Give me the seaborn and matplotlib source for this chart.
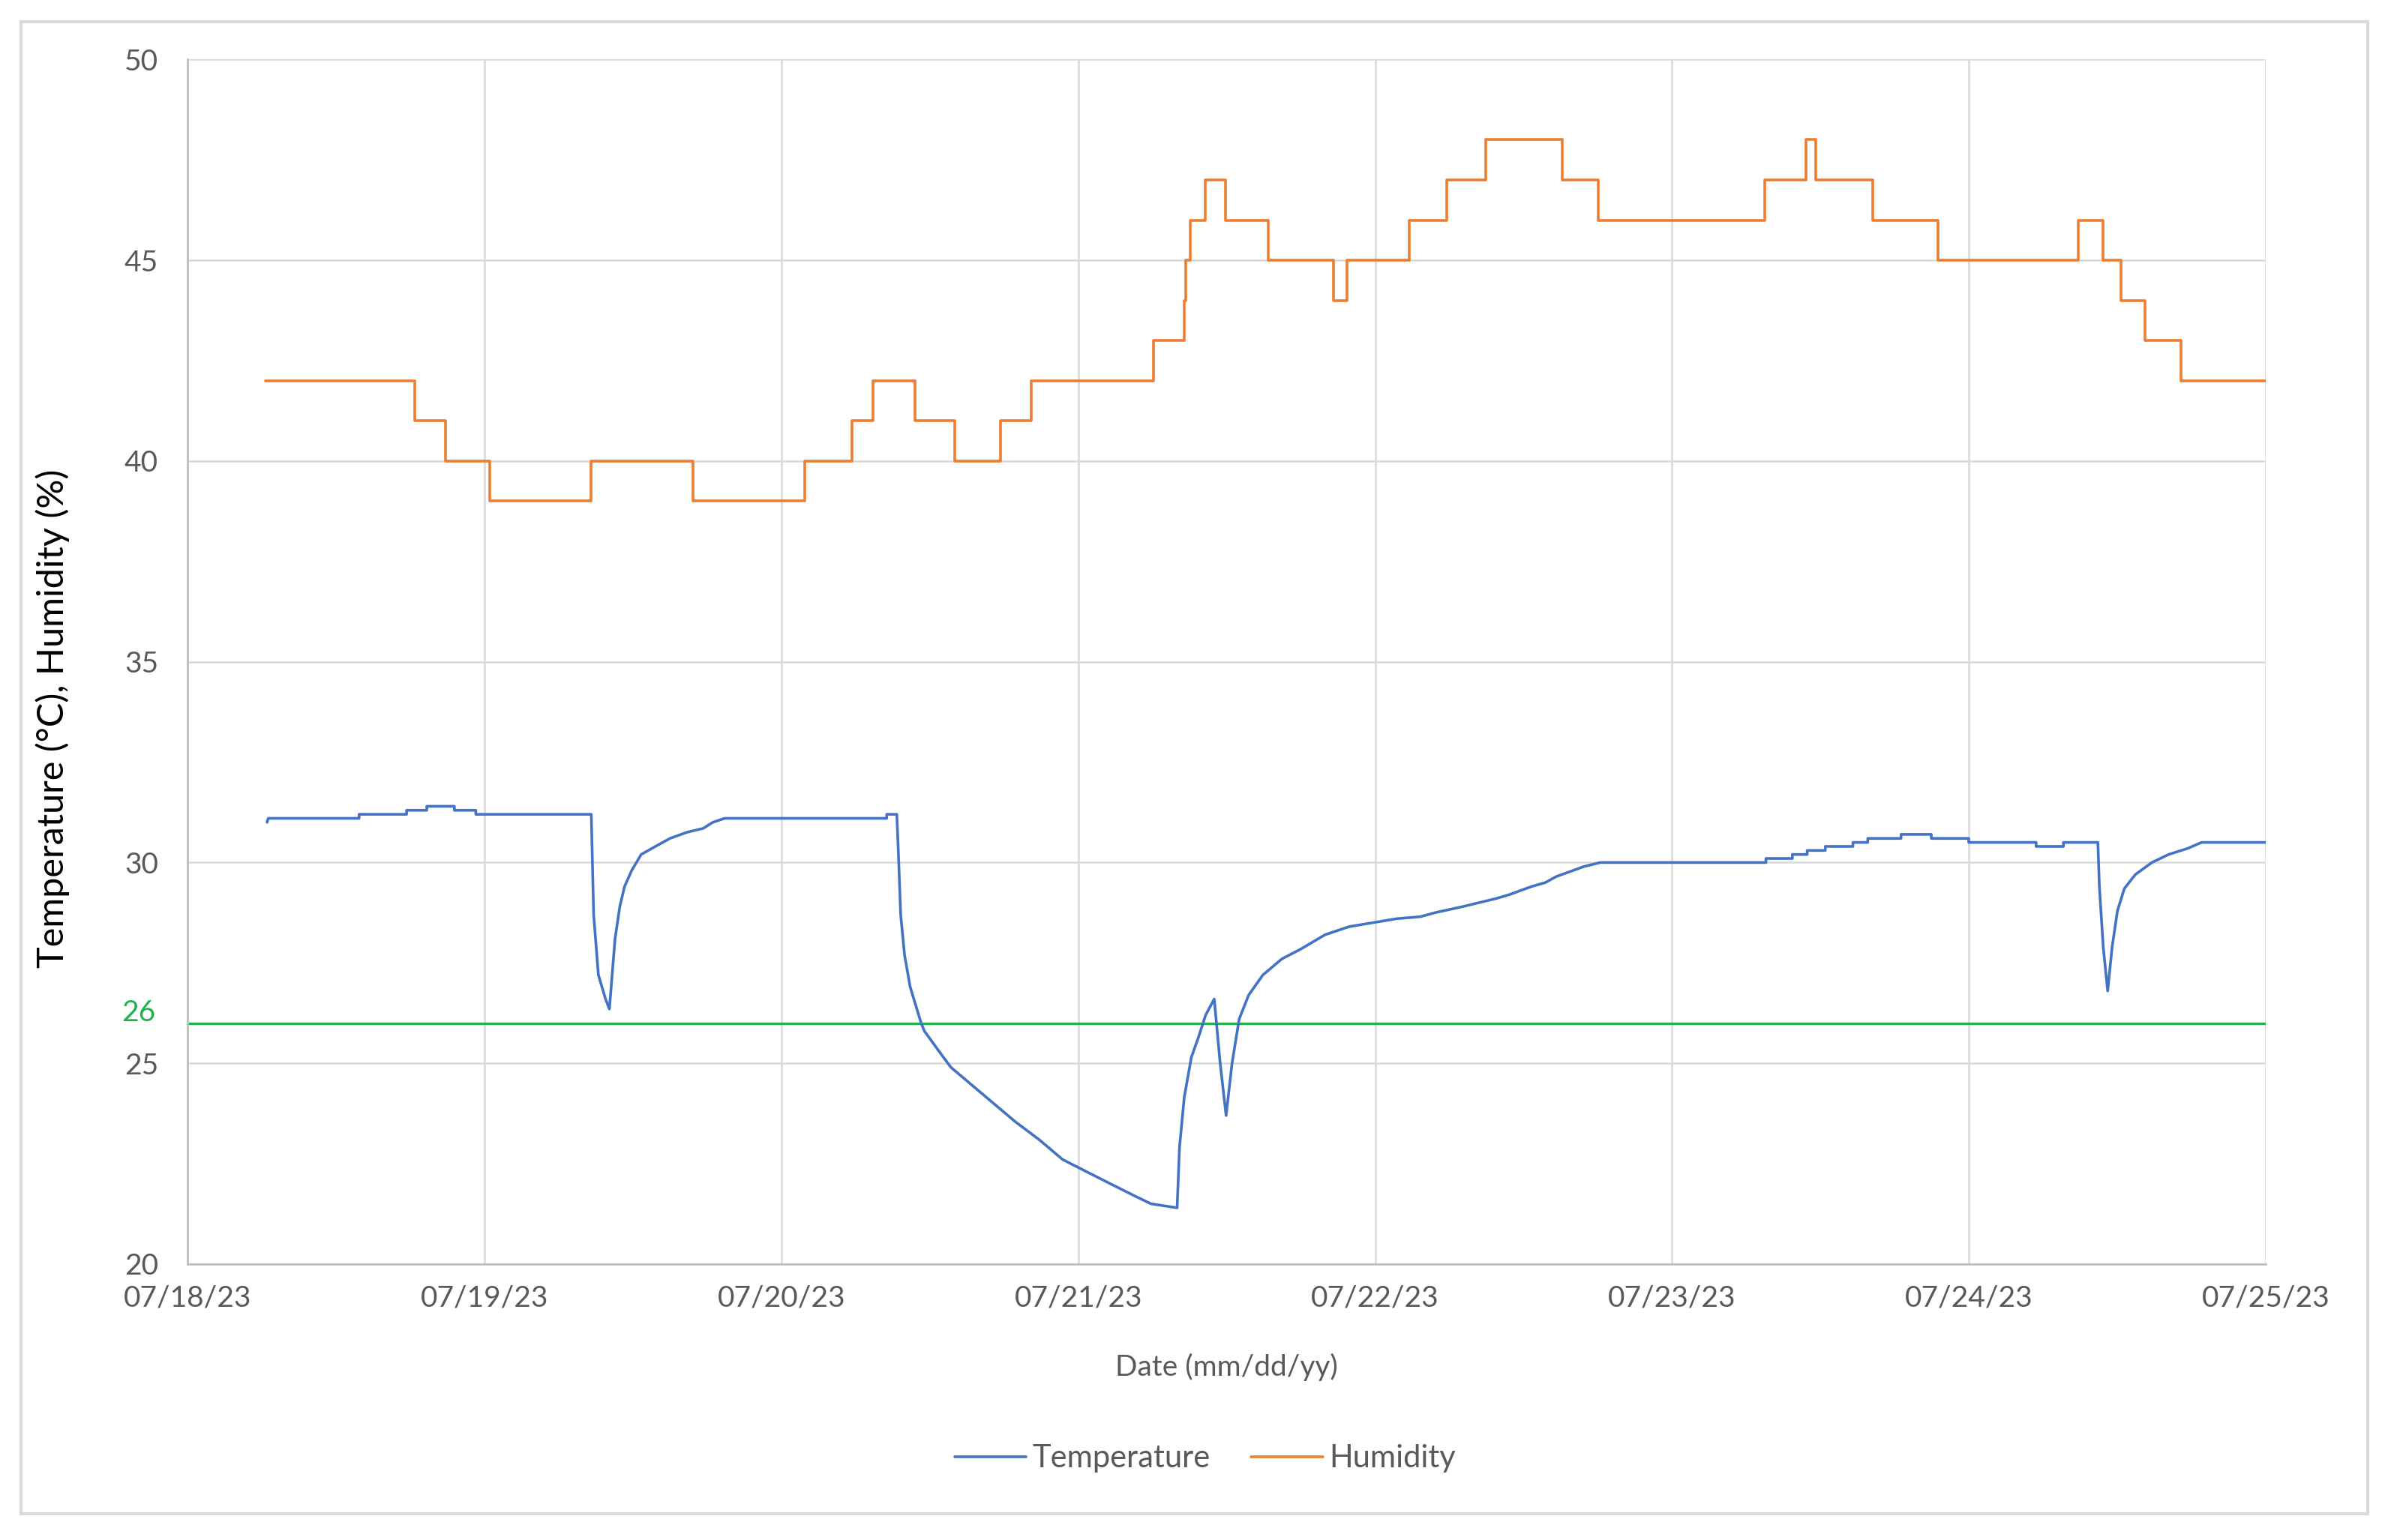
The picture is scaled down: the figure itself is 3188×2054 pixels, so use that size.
import pandas as pd
import matplotlib
matplotlib.use("Agg")
import matplotlib.pyplot as plt
import matplotlib.dates as mdates
from matplotlib.patches import Rectangle
import seaborn as sns

# Start of the logging period
start = pd.Timestamp("2023-07-18")

# Temperature readings: days since 07/18/23 and value (°C)
temp_days = [0.268, 0.272, 0.578, 0.578, 0.738, 0.738, 0.806, 0.806, 0.899, 0.899,
             0.971, 0.971, 1.360, 1.368, 1.384, 1.408, 1.421, 1.440, 1.456, 1.472,
             1.496, 1.528, 1.576, 1.625, 1.681, 1.737, 1.769, 1.809, 2.355, 2.355,
             2.389, 2.394, 2.402, 2.415, 2.434, 2.471, 2.482, 2.531, 2.571, 2.627,
             2.707, 2.787, 2.868, 2.948, 3.028, 3.108, 3.189, 3.245, 3.333, 3.341,
             3.357, 3.381, 3.405, 3.429, 3.458, 3.478, 3.498, 3.518, 3.542, 3.574,
             3.622, 3.686, 3.751, 3.831, 3.911, 3.991, 4.072, 4.152, 4.201, 4.294,
             4.350, 4.406, 4.452, 4.489, 4.526, 4.573, 4.610, 4.666, 4.703, 4.759,
             5.316, 5.316, 5.405, 5.405, 5.455, 5.455, 5.516, 5.516, 5.609, 5.609,
             5.659, 5.659, 5.771, 5.771, 5.873, 5.873, 5.999, 5.999, 6.226, 6.226,
             6.318, 6.318, 6.434, 6.439, 6.452, 6.467, 6.482, 6.500, 6.523, 6.560,
             6.616, 6.672, 6.736, 6.783, 7.000]
temp_values = [31.0, 31.1, 31.1, 31.2, 31.2, 31.3, 31.3, 31.4, 31.4, 31.3,
               31.3, 31.2, 31.2, 28.7, 27.2, 26.6, 26.35, 28.1, 28.9, 29.4,
               29.8, 30.2, 30.4, 30.6, 30.75, 30.85, 31.0, 31.1, 31.1, 31.2,
               31.2, 30.3, 28.7, 27.7, 26.9, 26.0, 25.8, 25.3, 24.9, 24.55,
               24.05, 23.55, 23.1, 22.6, 22.3, 22.0, 21.7, 21.5, 21.4, 22.9,
               24.15, 25.15, 25.65, 26.2, 26.6, 25.0, 23.7, 25.0, 26.1, 26.7,
               27.2, 27.6, 27.85, 28.2, 28.4, 28.5, 28.6, 28.65, 28.75, 28.9,
               29.0, 29.1, 29.2, 29.3, 29.4, 29.5, 29.65, 29.8, 29.9, 30.0,
               30.0, 30.1, 30.1, 30.2, 30.2, 30.3, 30.3, 30.4, 30.4, 30.5,
               30.5, 30.6, 30.6, 30.7, 30.7, 30.6, 30.6, 30.5, 30.5, 30.4,
               30.4, 30.5, 30.5, 29.4, 27.9, 26.8, 27.9, 28.8, 29.35, 29.7,
               30.0, 30.2, 30.35, 30.5, 30.5]

# Humidity readings (%): value holds from each change until the next
hum_days = [0.263, 0.766, 0.869, 1.018, 1.359, 1.703, 2.079, 2.238, 2.310, 2.451,
            2.584, 2.738, 2.841, 3.253, 3.356, 3.362, 3.378, 3.428, 3.497, 3.639,
            3.859, 3.906, 4.114, 4.240, 4.373, 4.630, 4.751, 5.312, 5.451, 5.485,
            5.675, 5.896, 6.367, 6.451, 6.512, 6.592, 6.715, 7.000]
hum_values = [42, 41, 40, 39, 40, 39, 40, 41, 42, 41,
              40, 41, 42, 43, 44, 45, 46, 47, 46, 45,
              44, 45, 46, 47, 48, 47, 46, 47, 48, 47,
              46, 45, 46, 45, 44, 43, 42, 42]

threshold = 26

temp = pd.DataFrame({"Date": start + pd.to_timedelta(temp_days, unit="D"),
                     "Value": temp_values})
hum = pd.DataFrame({"Date": start + pd.to_timedelta(hum_days, unit="D"),
                    "Value": hum_values})

sns.set_theme(style="white")
plt.rcParams["font.family"] = ["Lato", "DejaVu Sans"]

fig = plt.figure(figsize=(15.94, 10.27), dpi=200)
ax = fig.add_axes([0.0784, 0.1792, 0.8693, 0.7822])

sns.lineplot(data=temp, x="Date", y="Value", ax=ax, color="#4472C4", lw=1.3,
             sort=False, estimator=None, label="Temperature")
sns.lineplot(data=hum, x="Date", y="Value", ax=ax, color="#ED7D31", lw=1.3,
             sort=False, estimator=None, drawstyle="steps-post", label="Humidity")
ax.axhline(threshold, color="#22B14C", lw=1.2, zorder=1)

# Axes
ax.set_xlim(start, start + pd.Timedelta(days=7))
ax.set_ylim(20, 50)
ax.set_yticks(range(20, 51, 5))
ax.xaxis.set_major_locator(mdates.DayLocator())
ax.xaxis.set_major_formatter(mdates.DateFormatter("%m/%d/%y"))
ax.grid(True, color="#d9d9d9", lw=0.9)
ax.set_axisbelow(True)
for side in ["top", "right"]:
    ax.spines[side].set_visible(False)
for side in ["left", "bottom"]:
    ax.spines[side].set_color("#bfbfbf")
    ax.spines[side].set_linewidth(1.0)
ax.tick_params(axis="both", length=0, labelsize=14, labelcolor="#595959")
ax.tick_params(axis="y", pad=14)
ax.tick_params(axis="x", pad=10)

ax.text(-0.0155, threshold + 0.25, str(threshold), transform=ax.get_yaxis_transform(),
        ha="right", va="center", fontsize=14, color="#22B14C")

ax.set_xlabel("Date (mm/dd/yy)", fontsize=14, color="#595959")
ax.xaxis.set_label_coords(0.5, -0.074)
ax.set_ylabel("Temperature (°C), Humidity (%)", fontsize=17.5, color="black")
ax.yaxis.set_label_coords(-0.0565, 0.453)

ax.legend(loc="center", bbox_to_anchor=(0.504, 0.053), bbox_transform=fig.transFigure,
          ncol=2, frameon=False, fontsize=15, handlelength=2.3, columnspacing=1.3,
          handletextpad=0.2, labelcolor="#595959")

# Chart border
fig.add_artist(Rectangle((0.0089, 0.0168), 0.9815, 0.9693, transform=fig.transFigure,
                         fill=False, edgecolor="#d9d9d9", lw=1.5))

plt.savefig("out.png", dpi=200)
